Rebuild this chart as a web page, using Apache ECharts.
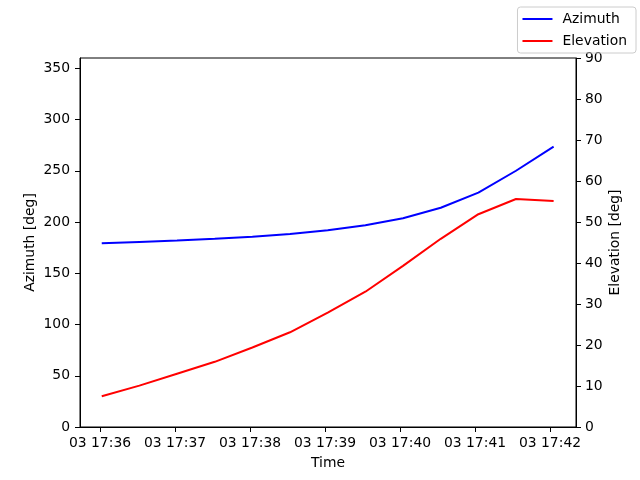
<!DOCTYPE html>
<html><head><meta charset="utf-8">
<script src="https://cdn.jsdelivr.net/npm/echarts@6/dist/echarts.min.js"></script>
<style>html,body{margin:0;padding:0;background:#fff}#c{width:640px;height:480px}</style>
</head><body><div id="c"></div>
<script>
// seconds after 17:36:00
const times = [1.4, 31.5, 61.6, 91.8, 121.9, 152.0, 182.2, 212.3, 242.4, 272.6, 302.7, 332.8, 362.9];
const azimuth = [179.2, 180.6, 182.0, 183.7, 185.7, 188.3, 191.9, 196.8, 203.6, 213.9, 228.6, 250.0, 273.6];
const elevation = [7.5, 10.1, 13.0, 15.9, 19.4, 23.1, 27.9, 33.0, 39.3, 45.9, 51.9, 55.6, 55.1];
const xTickValues = [0, 60, 120, 180, 240, 300, 360];
const xTickLabels = ['03 17:36', '03 17:37', '03 17:38', '03 17:39', '03 17:40', '03 17:41', '03 17:42'];
const yLeftTicks = [0, 50, 100, 150, 200, 250, 300, 350];

const font = 'DejaVu Sans';
const chart = echarts.init(document.getElementById('c'));
const txt = {color: '#000', fontFamily: font, fontSize: 13.9};
chart.setOption({
  animation: false,
  grid: {left: 80, right: 64, top: 58, bottom: 53, show: true, borderColor: '#000', borderWidth: 1, backgroundColor: 'transparent'},
  legend: {
    orient: 'vertical', right: 4, top: 7,
    data: ['Azimuth', 'Elevation'],
    borderColor: '#ccc', borderWidth: 1, borderRadius: 3, padding: [5, 9, 5, 5],
    itemWidth: 30, itemHeight: 2, itemGap: 8,
    icon: 'rect',
    textStyle: {color: '#000', fontFamily: font, fontSize: 13.9, padding: [0, 0, 0, 5]}
  },
  xAxis: {
    type: 'value', min: -16, max: 380.8,
    name: 'Time', nameLocation: 'middle', nameGap: 29, nameTextStyle: txt,
    axisLine: {onZero: false, lineStyle: {color: '#000'}},
    axisTick: {customValues: xTickValues, length: 5, lineStyle: {color: '#000'}},
    axisLabel: {customValues: xTickValues, ...txt, margin: 9,
      formatter: v => xTickLabels[xTickValues.indexOf(v)]},
    splitLine: {show: false}
  },
  yAxis: [{
    type: 'value', min: 0, max: 360, position: 'left',
    name: 'Azimuth [deg]', nameLocation: 'middle', nameGap: 43, nameMoveOverlap: false, nameTextStyle: txt,
    axisLine: {show: true, onZero: false, lineStyle: {color: '#000'}},
    axisTick: {show: true, customValues: yLeftTicks, length: 5, lineStyle: {color: '#000'}},
    axisLabel: {customValues: yLeftTicks, ...txt, margin: 10},
    splitLine: {show: false}
  }, {
    type: 'value', min: 0, max: 90, interval: 10, position: 'right',
    name: 'Elevation [deg]', nameLocation: 'middle', nameGap: 32, nameMoveOverlap: false, nameTextStyle: txt,
    axisLine: {show: true, onZero: false, lineStyle: {color: '#000'}},
    axisTick: {show: true, length: 5, lineStyle: {color: '#000'}},
    axisLabel: {...txt, margin: 9},
    splitLine: {show: false}
  }],
  series: [{
    name: 'Azimuth', type: 'line', yAxisIndex: 0, showSymbol: false,
    color: '#0000ff', lineStyle: {width: 2, color: '#0000ff'},
    data: times.map((t, i) => [t, azimuth[i]])
  }, {
    name: 'Elevation', type: 'line', yAxisIndex: 1, showSymbol: false,
    color: '#ff0000', lineStyle: {width: 2, color: '#ff0000'},
    data: times.map((t, i) => [t, elevation[i]])
  }]
});
</script></body></html>
